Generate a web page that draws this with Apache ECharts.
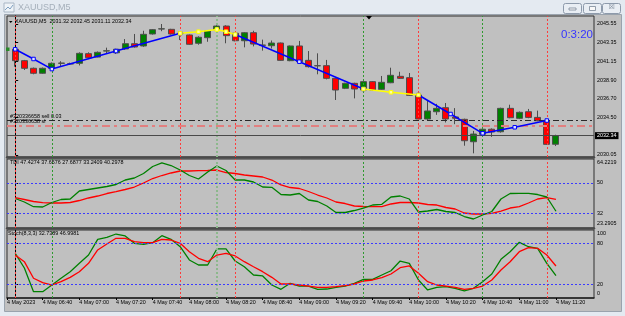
<!DOCTYPE html>
<html><head><meta charset="utf-8">
<script src="https://cdn.jsdelivr.net/npm/echarts@6/dist/echarts.min.js"></script>
<style>html,body{margin:0;padding:0;background:#c0c0c0}#c{width:625px;height:316px}</style>
</head><body><div id="c"></div>
<script>
// ---- data ----
// candles: [open, close, low, high], XAUUSD M5, 4 May 2023 06:25 .. 11:20
const candles = [
[2042.56,2041.21,2040.50,2042.71],[2041.21,2040.31,2040.11,2041.30],[2040.31,2039.72,2039.60,2040.40],
[2039.72,2040.31,2039.65,2040.40],[2040.31,2040.90,2040.22,2041.00],[2040.90,2040.93,2040.55,2041.15],
[2040.85,2040.82,2040.70,2040.98],[2040.90,2042.08,2040.65,2042.20],[2042.04,2041.56,2041.40,2042.20],
[2041.64,2042.20,2041.60,2042.30],[2042.35,2042.38,2042.00,2042.75],[2042.15,2042.56,2042.00,2042.62],
[2042.60,2043.22,2042.50,2043.77],[2043.22,2042.83,2042.75,2044.37],[2042.95,2044.33,2042.85,2044.75],
[2044.37,2044.88,2044.30,2044.95],[2044.96,2044.98,2044.70,2045.55],[2044.92,2044.37,2044.30,2044.98],
[2044.45,2044.42,2043.65,2044.50],[2044.25,2043.15,2043.10,2044.30],[2043.27,2043.98,2043.10,2044.10],
[2043.93,2044.72,2043.45,2044.80],[2044.88,2045.31,2044.80,2045.40],[2045.31,2044.17,2043.27,2045.40],
[2044.45,2043.57,2043.50,2044.50],[2043.57,2044.52,2042.79,2044.60],[2044.52,2043.18,2042.90,2044.75],
[2043.06,2043.03,2042.40,2043.70],[2042.98,2043.30,2042.65,2043.60],[2043.30,2041.25,2041.20,2043.35],
[2041.21,2042.95,2041.15,2043.00],[2042.95,2041.09,2041.00,2043.55],[2041.25,2040.50,2040.40,2042.35],
[2040.62,2040.60,2039.60,2042.08],[2040.62,2039.12,2039.00,2041.30],[2039.12,2037.74,2036.56,2039.20],
[2037.94,2038.53,2037.85,2038.60],[2038.53,2037.86,2036.75,2038.60],[2037.74,2038.73,2037.65,2038.80],
[2038.73,2037.74,2037.65,2038.80],[2037.82,2038.65,2037.75,2039.40],[2038.60,2039.48,2038.55,2040.38],
[2039.36,2039.12,2039.05,2039.90],[2039.20,2037.11,2037.05,2039.75],[2037.15,2034.31,2034.20,2037.20],
[2034.31,2035.26,2034.20,2036.56],[2035.17,2035.57,2034.80,2036.10],[2035.65,2034.31,2033.90,2036.20],
[2034.55,2034.40,2033.70,2035.60],[2034.27,2031.74,2031.15,2034.35],[2031.62,2032.53,2030.25,2032.90],
[2032.50,2033.10,2032.20,2033.20],[2033.10,2032.77,2032.20,2033.20],[2032.80,2035.57,2032.70,2035.65],
[2035.57,2034.46,2034.40,2036.00],[2034.39,2035.10,2034.30,2035.20],[2035.17,2034.50,2034.40,2035.50],
[2034.50,2034.10,2034.05,2035.30],[2034.10,2031.31,2031.25,2034.20],[2031.32,2032.34,2031.11,2032.45]
];
const tdiGreen = [40.79,38.71,35.92,35.75,38.42,40.20,40.49,45.24,46.13,47.02,47.91,49.09,51.76,52.95,55.62,59.77,61.97,60.36,57.69,54.43,
52.36,56.51,60.07,57.40,51.76,51.76,50.58,47.61,47.43,43.16,42.86,43.75,39.90,39.01,36.34,32.48,32.48,33.67,35.15,36.93,
37.35,41.68,42.27,40.49,32.78,33.37,34.26,33.08,32.48,30.11,28.63,31.00,33.08,40.49,43.75,43.87,43.87,43.16,41.68,33.24];
const tdiRed = [41.26,40.20,39.01,38.30,38.12,38.12,38.42,39.60,41.09,42.27,43.75,44.82,46.13,47.61,49.98,52.65,54.43,55.92,57.10,57.10,
57.28,57.40,57.69,56.21,55.62,54.73,54.14,53.54,51.76,48.80,47.31,46.72,44.94,42.86,41.09,38.71,37.82,36.34,36.04,35.92,
35.92,37.53,38.42,38.42,38.12,37.23,36.93,35.45,34.56,32.19,31.59,31.59,32.01,33.37,35.15,35.92,38.12,40.49,41.26,40.30];
const stochGreen = [65.7,44.1,9.3,9.3,19.1,29.0,38.7,51.0,63.2,86.3,89.3,94.1,91.2,80.4,79.0,81.3,91.6,86.3,75.4,55.9,
48.5,48.5,72.1,72.1,54.4,46.0,33.8,32.4,19.1,12.8,21.6,17.6,17.6,12.8,13.2,15.7,17.6,21.6,27.5,27.5,
33.8,40.1,54.4,51.0,26.5,11.8,15.7,16.6,14.3,10.3,14.3,24.0,35.3,56.9,68.1,81.9,75.4,73.1,51.0,32.74];
const stochRed = [63.2,53.4,29.0,22.5,19.1,24.0,30.4,38.7,51.0,70.6,79.4,87.8,87.8,82.8,81.3,81.3,86.3,85.3,80.4,68.1,
58.4,53.4,63.2,65.7,61.8,53.4,46.0,38.7,30.4,20.6,20.6,19.1,17.6,15.7,15.7,16.6,18.1,20.6,25.0,26.5,
29.9,35.3,44.6,47.1,36.3,24.0,19.1,17.6,15.7,12.8,14.3,17.6,26.5,41.2,53.4,68.1,74.0,73.1,63.2,47.0];
const zzBlueA = [[0,2042.56],[2,2041.41],[4,2040.22],[11,2042.35],[18,2044.45]];
const zzYellowA = [[18,2044.45],[20,2044.64],[22,2044.90],[23,2044.64],[24,2044.31]];
const zzBlueB = [[24,2044.31],[31,2041.09],[38,2037.86]];
const zzYellowB = [[38,2037.86],[41,2037.47],[44,2037.15]];
const zzBlueC = [[44,2037.15],[47.5,2034.90],[51,2032.62],[54.5,2033.33],[58,2034.13]];
const redVLines = [0,18,24,44,58];
const greenVLines = [4,22,38,51];
const orderPrice = 2034.15, slPrice = 2033.54, bidPrice = 2032.34;
const priceTicks = [2045.55,2043.35,2041.15,2038.90,2036.70,2034.50,2030.05];
const priceTickLabels = ['2045.55','2043.35','2041.15','2038.90','2036.70','2034.50','2030.05'];
const tdiTicks = [64.2219,50,32,23.2905];
const tdiTickLabels = ['64.2219','50','32','23.2905'];
const stochTicks = [100,80,20,0];
const stochTickLabels = ['100','80','20','0'];
const timeTickIdx = [3,7,11,15,19,23,27,31,35,39,43,47,51,55,59];
const timeTickLabels = ['4 May 06:40','4 May 07:00','4 May 07:20','4 May 07:40','4 May 08:00','4 May 08:20','4 May 08:40',
'4 May 09:00','4 May 09:20','4 May 09:40','4 May 10:00','4 May 10:20','4 May 10:40','4 May 11:00','4 May 11:20'];
const firstTimeLabel = '4 May 2023';

// ---- layout / style ----
const XMIN = -0.8946, XMAX = 63.15;
const PMIN = 2029.814, PMAX = 2046.497;
const TMIN = 23.2905, TMAX = 64.2219;
const FONT = 'Liberation Sans, Arial, sans-serif';
const FS = 5.4;
function nearest(arr, v){let b=0;for(let i=1;i<arr.length;i++) if(Math.abs(arr[i]-v)<Math.abs(arr[b]-v)) b=i;return b;}

const vLineData = [
  ...redVLines.map(x=>({xAxis:x, lineStyle:{color:'#ff3b3b', type:[2,2], width:1}})),
  ...greenVLines.map(x=>({xAxis:x, lineStyle:{color: x===22?'#8cb88c':'#2f9a2f', type:[2,2], width: x===22?2:1}}))
];
function baseMark(extra){
  return {symbol:'none', silent:true, animation:false, label:{show:false}, data: vLineData.concat(extra||[])};
}
function xAxisCfg(gi, bottom){
  const c = {gridIndex:gi, type:'value', min:XMIN, max:XMAX, splitLine:{show:false},
    axisLine:{show:true, onZero:false, lineStyle:{color: bottom?'#202020':'#4a4a4a', width: bottom?1.5:2.5}},
    axisTick:{show:false}, axisLabel:{show:false}};
  if (bottom){
    const vals=[XMIN].concat(timeTickIdx);
    c.axisTick={show:true, customValues:vals, length:2, lineStyle:{color:'#000'}};
    c.axisLabel={show:true, customValues:vals, align:'left', margin:2, fontSize:FS, color:'#000', fontFamily:FONT,
      formatter:v=> v<0 ? firstTimeLabel : timeTickLabels[nearest(timeTickIdx,v)]};
  }
  return c;
}
function yAxisCfg(gi, min, max, ticks, labels, tickVals, shiftEnds){
  return {gridIndex:gi, type:'value', position:'right', min, max, scale:true, splitLine:{show:false},
    axisLine:{show:true, lineStyle:{color:'#000', width:1}},
    axisTick:{show:true, customValues:tickVals, length:3, lineStyle:{color:'#000'}},
    axisLabel:{show:true, customValues:ticks, margin:3, fontSize:FS, color:'#000', fontFamily:FONT,
      formatter:v=>{const i=nearest(ticks,v); const t=labels[i];
        if(shiftEnds){ if(i===0) return '{dn|'+t+'}'; if(i===ticks.length-1) return '{up|'+t+'}'; }
        return t;},
      rich:{dn:{fontSize:FS, fontFamily:FONT, color:'#000', padding:[7,0,0,0]},
            up:{fontSize:FS, fontFamily:FONT, color:'#000', padding:[0,0,8,0]}}}
  };
}
const lbl = (t,x,y,extra)=>Object.assign({text:t, left:x, top:y, padding:0,
  textStyle:{fontSize:FS, fontWeight:'normal', color:'#000', fontFamily:FONT}}, extra||{});

const chart = echarts.init(document.getElementById('c'));
const zzLine = (data,color,fill)=>({type:'line', xAxisIndex:0, yAxisIndex:0, data, z:5, symbol:'rect', symbolSize:3.5,
  showSymbol:true, showAllSymbol:true, lineStyle:{color, width:1.5}, itemStyle:{color:fill, borderColor:color, borderWidth:1}, animation:false});

chart.setOption({
  animation:false,
  backgroundColor:'#c0c0c0',
  grid:[
    {left:7, right:31, top:16, height:141, show:true, backgroundColor:'#c0c0c0', borderColor:'#303030', borderWidth:1},
    {left:7, right:31, top:159, height:69, show:true, backgroundColor:'#c0c0c0', borderColor:'#303030', borderWidth:1},
    {left:7, right:31, top:230, height:68, show:true, backgroundColor:'#c0c0c0', borderColor:'#303030', borderWidth:1}
  ],
  xAxis:[xAxisCfg(0,false), xAxisCfg(1,false), xAxisCfg(2,true)],
  yAxis:[
    yAxisCfg(0, PMIN, PMAX, priceTicks, priceTickLabels, priceTicks, false),
    yAxisCfg(1, TMIN, TMAX, tdiTicks, tdiTickLabels, [50,32], true),
    yAxisCfg(2, 0, 100, stochTicks, stochTickLabels, [80,20], true)
  ],
  title:[
    lbl('XAUUSD,M5  2031.32 2032.45 2031.11 2032.34', 15, 19.5),
    lbl('TDI 47.4274 37.6576 27.6877 33.2409 40.2978', 10, 160),
    lbl('Stoch(8,3,3) 32.7389 46.9981', 8, 231),
    lbl('0:3:20', 561, 29, {textStyle:{fontSize:11.5, fontWeight:'normal', color:'#3535ff', fontFamily:FONT}})
  ],
  series:[
    {type:'candlestick', xAxisIndex:0, yAxisIndex:0, z:3,
     data: candles.map((c,i)=>[i,c[0],c[1],c[2],c[3]]), encode:{x:0, y:[1,2,3,4]},
     barWidth:6.5,
     itemStyle:{color:'#008000', color0:'#ff0000', borderColor:'#4d4d4d', borderColor0:'#4d4d4d', borderWidth:1},
     markLine: baseMark([
       {yAxis:orderPrice, lineStyle:{color:'#2a2a2a', type:[6,3,2,3], width:1},
        label:{show:true, position:'insideStartTop', distance:[3,1], formatter:'#320336658 sell 0.03', fontSize:FS, color:'#000', fontFamily:FONT}},
       {yAxis:slPrice, lineStyle:{color:'#e27f7f', type:[8,4,3,4], width:2},
        label:{show:true, position:'insideStartTop', distance:[3,1], formatter:'#320336658 sl', fontSize:FS, color:'#000', fontFamily:FONT}},
       {yAxis:bidPrice, lineStyle:{color:'#4a4a4a', type:'solid', width:1},
        label:{show:true, position:'end', distance:1, formatter:'2032.34', fontSize:FS, color:'#fff', backgroundColor:'#000', padding:[1,2,1,2], fontFamily:FONT}}
     ])},
    zzLine(zzBlueA,'#0000ff','#dfe6ff'),
    zzLine(zzBlueB,'#0000ff','#dfe6ff'),
    zzLine(zzBlueC,'#0000ff','#dfe6ff'),
    zzLine(zzYellowA,'#ffff00','#ffffa0'),
    zzLine(zzYellowB,'#ffff00','#ffffa0'),
    {type:'line', xAxisIndex:1, yAxisIndex:1, data:tdiRed.map((v,i)=>[i,v]), showSymbol:false, lineStyle:{color:'#ff0000', width:1.3}, z:4},
    {type:'line', xAxisIndex:1, yAxisIndex:1, data:tdiGreen.map((v,i)=>[i,v]), showSymbol:false, lineStyle:{color:'#008000', width:1.3}, z:4,
     markLine: baseMark([{yAxis:50, lineStyle:{color:'#3a3aff', type:[2,2], width:1}},{yAxis:32, lineStyle:{color:'#3a3aff', type:[2,2], width:1}}])},
    {type:'line', xAxisIndex:2, yAxisIndex:2, data:stochGreen.map((v,i)=>[i,v]), showSymbol:false, lineStyle:{color:'#008000', width:1.3}, z:4,
     markLine: baseMark([{yAxis:80, lineStyle:{color:'#3a3aff', type:[2,2], width:1}},{yAxis:20, lineStyle:{color:'#3a3aff', type:[2,2], width:1}}])},
    {type:'line', xAxisIndex:2, yAxisIndex:2, data:stochRed.map((v,i)=>[i,v]), showSymbol:false, lineStyle:{color:'#ff0000', width:1.3}, z:4}
  ],
  graphic:[
    {type:'rect', shape:{x:0,y:0,width:625,height:15}, style:{fill:'#e4eaf1'}, silent:true},
    {type:'rect', shape:{x:0,y:0,width:5,height:316}, style:{fill:'#e4eaf1'}, silent:true},
    {type:'rect', shape:{x:621,y:0,width:4,height:316}, style:{fill:'#e4eaf1'}, silent:true},
    {type:'rect', shape:{x:0,y:311,width:625,height:5}, style:{fill:'#e4eaf1'}, silent:true},
    {type:'rect', shape:{x:4.5,y:14.5,width:617,height:297}, style:{fill:null, stroke:'#9aa3ad', lineWidth:1}, silent:true},
    {type:'rect', shape:{x:4,y:3,width:10,height:9}, style:{fill:'#eef3f8', stroke:'#a9b6c4', lineWidth:1}, silent:true},
    {type:'polyline', shape:{points:[[5,10],[8,7],[10,9],[13,5]]}, style:{stroke:'#7f9fc0', lineWidth:1, fill:null}, silent:true},
    {type:'text', x:18, y:3, style:{text:'XAUUSD,M5', fontSize:9, fill:'#a5afba', fontFamily:FONT}, silent:true},
    {type:'rect', shape:{x:563.5,y:3.5,width:18,height:10, r:2}, style:{fill:'#e9eef4', stroke:'#8d9aab'}, silent:true},
    {type:'rect', shape:{x:583.5,y:3.5,width:18,height:10, r:2}, style:{fill:'#e9eef4', stroke:'#8d9aab'}, silent:true},
    {type:'rect', shape:{x:602.5,y:3.5,width:18,height:10, r:2}, style:{fill:'#e9eef4', stroke:'#8d9aab'}, silent:true},
    {type:'rect', shape:{x:569,y:8,width:7,height:2}, style:{fill:'#f8f8f8', stroke:'#7a8797', lineWidth:0.8}, silent:true},
    {type:'rect', shape:{x:589.5,y:6.5,width:6,height:4}, style:{fill:'#f8f8f8', stroke:'#7a8797', lineWidth:0.8}, silent:true},
    {type:'text', x:608.5, y:4, style:{text:'☒', fontSize:7, fill:'#7a8797', fontFamily:'DejaVu Sans'}, silent:true},
    {type:'polygon', shape:{points:[[9,21],[12.5,21],[10.75,23]]}, style:{fill:'#000'}, silent:true, z:10},
    {type:'polygon', shape:{points:[[366,16],[372,16],[369,19.5]]}, style:{fill:'#000'}, silent:true, z:10},
    {type:'rect', shape:{x:6,y:47.5,width:3.5,height:3.5}, style:{fill:'#2a8a2a'}, silent:true, z:10}
  ]
});
</script></body></html>
